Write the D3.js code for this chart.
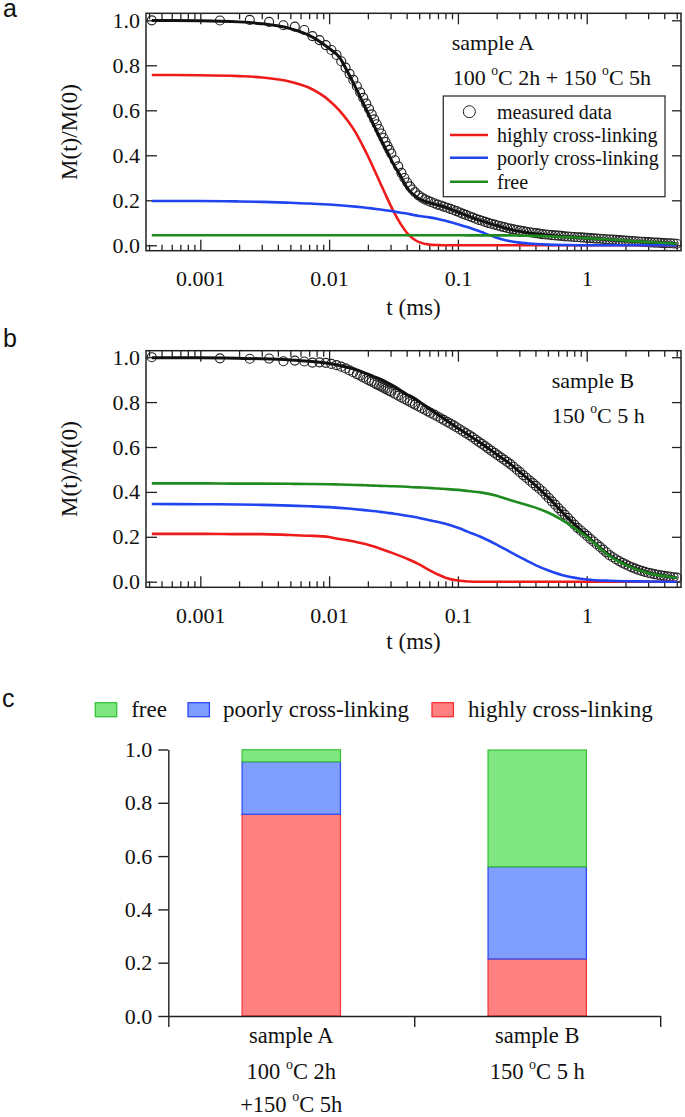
<!DOCTYPE html>
<html><head><meta charset="utf-8">
<script src="https://cdn.jsdelivr.net/npm/d3@7"></script>
<style>body{margin:0;background:#fff}svg{display:block}</style>
</head><body>
<svg id="c" width="685" height="1117"></svg>
<script>
// ---------- data ----------
const tMeasured = [0.00042,0.00142,0.00242,0.00342,0.00442,0.00542,0.00642,0.00742,0.00842,0.00942,
 0.01042,0.01142,0.01242,0.01342,0.01442,0.01542,0.01642,0.01742,0.01842,0.01942,
 0.02042,0.02142,0.02242,0.02342,0.02442,0.02542,0.02642,0.02742,0.02842,0.02942,
 0.03042,0.03242,0.03442,0.03642,0.03842,0.04042,0.04242,0.04442,0.04642,0.04942,
 0.05242,0.05542,0.05842,0.06142,0.06542,0.06942,0.07342,0.07742,0.08242,0.08742,
 0.09242,0.09742,0.1034,0.1094,0.1154,0.1224,0.1294,0.1374,0.1454,0.1534,
 0.1624,0.1714,0.1814,0.1924,0.2034,0.2154,0.2284,0.2414,0.2554,0.2704,
 0.2864,0.3034,0.3214,0.3404,0.3604,0.3814,0.4034,0.4274,0.4524,0.4794,
 0.5074,0.5374,0.5694,0.6024,0.6384,0.6754,0.7154,0.7574,0.8024,0.8494,
 0.8994,0.9524,1.0084,1.0674,1.1304,1.1974,1.2684,1.3424,1.4214,1.5054,
 1.5934,1.6874,1.7864,1.8914,2.0034,2.1214,2.2464,2.3784,2.5184,2.6674,
 2.8244,2.9904,3.1664,3.3534,3.5504,3.7594,3.9814,4.2154,4.4634,4.7264,
 5.0044];
const measuredA = [1.000,0.999,1.002,0.993,0.978,0.972,0.957,0.930,0.912,0.890,
 0.868,0.846,0.818,0.790,0.762,0.735,0.707,0.680,0.655,0.630,
 0.606,0.582,0.560,0.538,0.517,0.497,0.477,0.459,0.441,0.424,
 0.408,0.378,0.351,0.322,0.299,0.279,0.262,0.248,0.236,0.222,
 0.212,0.204,0.198,0.193,0.187,0.181,0.177,0.172,0.167,0.162,
 0.157,0.152,0.146,0.140,0.135,0.129,0.124,0.118,0.113,0.109,
 0.104,0.100,0.096,0.092,0.088,0.084,0.081,0.077,0.074,0.071,
 0.068,0.065,0.063,0.060,0.058,0.056,0.054,0.052,0.050,0.048,
 0.047,0.045,0.044,0.043,0.042,0.040,0.039,0.038,0.037,0.036,
 0.035,0.034,0.033,0.032,0.031,0.030,0.029,0.028,0.027,0.026,
 0.025,0.024,0.023,0.022,0.021,0.020,0.019,0.018,0.017,0.016,
 0.015,0.014,0.013,0.012,0.012,0.011,0.010,0.009,0.009,0.008,
 0.007];
const measuredB = [1.000,0.995,0.993,0.994,0.982,0.985,0.981,0.976,0.977,0.975,
 0.970,0.965,0.958,0.950,0.941,0.933,0.925,0.918,0.910,0.903,
 0.897,0.891,0.885,0.879,0.874,0.869,0.864,0.859,0.854,0.850,
 0.845,0.837,0.829,0.821,0.814,0.807,0.801,0.795,0.789,0.781,
 0.773,0.766,0.759,0.752,0.744,0.736,0.728,0.721,0.712,0.704,
 0.696,0.688,0.679,0.670,0.662,0.653,0.644,0.633,0.623,0.614,
 0.604,0.594,0.584,0.574,0.564,0.554,0.544,0.534,0.524,0.512,
 0.500,0.488,0.475,0.463,0.451,0.439,0.427,0.415,0.403,0.388,
 0.373,0.358,0.343,0.328,0.313,0.299,0.284,0.269,0.254,0.240,
 0.228,0.216,0.204,0.191,0.179,0.167,0.155,0.143,0.131,0.118,
 0.109,0.100,0.092,0.084,0.077,0.070,0.064,0.058,0.053,0.048,
 0.044,0.040,0.037,0.034,0.031,0.028,0.026,0.024,0.022,0.020,
 0.018];

const tFit = [0.00042,0.001,0.002,0.003,0.005,0.007,0.01,0.012,0.014,0.016,
 0.018,0.02,0.022,0.025,0.028,0.032,0.036,0.04,0.045,0.05,
 0.06,0.07,0.08,0.1,0.12,0.15,0.2,0.25,0.3,0.4,
 0.5,0.7,1,1.5,2,3,4,5];
const fitA = [0.999,0.998,0.993,0.985,0.963,0.933,0.875,0.836,0.768,0.703,
 0.643,0.589,0.540,0.475,0.420,0.355,0.307,0.258,0.226,0.207,
 0.189,0.179,0.169,0.148,0.130,0.110,0.088,0.072,0.062,0.051,
 0.045,0.038,0.032,0.025,0.020,0.014,0.010,0.007];
const highlyA = [0.757,0.756,0.752,0.746,0.727,0.700,0.644,0.600,0.552,0.503,
 0.449,0.397,0.346,0.276,0.214,0.145,0.094,0.057,0.029,0.014,
 0.003,0.001,0,0,0,0,0,0,0,0,
 0,0,0,0,0,0,0,0];
const poorlyA = [0.197,0.197,0.195,0.193,0.189,0.186,0.181,0.178,0.175,0.172,
 0.169,0.166,0.163,0.159,0.155,0.150,0.145,0.141,0.135,0.130,
 0.124,0.117,0.109,0.094,0.080,0.060,0.034,0.019,0.012,0.006,
 0.003,0.001,0,0,0,0,0,0];
const freeA = [0.045,0.045,0.045,0.045,0.045,0.045,0.045,0.045,0.045,0.045,
 0.045,0.045,0.045,0.045,0.045,0.045,0.045,0.045,0.045,0.045,
 0.045,0.045,0.045,0.045,0.044,0.044,0.044,0.044,0.043,0.042,
 0.040,0.037,0.032,0.026,0.021,0.014,0.010,0.007];
const fitB = [0.997,0.997,0.995,0.993,0.988,0.982,0.972,0.963,0.954,0.945,
 0.935,0.925,0.915,0.902,0.888,0.870,0.852,0.835,0.820,0.803,
 0.770,0.744,0.721,0.684,0.655,0.618,0.567,0.528,0.490,0.429,
 0.377,0.289,0.205,0.119,0.077,0.040,0.026,0.018];
const highlyB = [0.213,0.213,0.212,0.212,0.208,0.205,0.199,0.190,0.184,0.178,
 0.171,0.165,0.158,0.147,0.137,0.125,0.114,0.103,0.090,0.077,
 0.052,0.032,0.018,0.005,0.001,0,0,0,0,0,
 0,0,0,0,0,0,0,0];
const poorlyB = [0.346,0.345,0.344,0.342,0.339,0.336,0.332,0.329,0.326,0.323,
 0.320,0.317,0.315,0.311,0.307,0.303,0.298,0.294,0.289,0.284,
 0.274,0.266,0.258,0.240,0.222,0.200,0.165,0.135,0.111,0.074,
 0.051,0.024,0.010,0.004,0.002,0.001,0,0];
const freeB = [0.438,0.438,0.437,0.437,0.436,0.435,0.434,0.433,0.432,0.431,
 0.430,0.429,0.428,0.427,0.426,0.425,0.424,0.423,0.421,0.420,
 0.418,0.415,0.413,0.409,0.404,0.398,0.383,0.365,0.352,0.330,
 0.308,0.262,0.200,0.115,0.075,0.039,0.025,0.017];

const xMajorTicks = [0.001, 0.01, 0.1, 1];
const xTickLabels = ["0.001", "0.01", "0.1", "1"];
const yTicks = [0, 0.2, 0.4, 0.6, 0.8, 1.0];
const legendLabels = ["measured data", "highly cross-linking", "poorly cross-linking", "free"];

const barCategories = ["sample A", "sample B"];
const barSubLabels = [
  [[["100 ",0],["o",1],["C 2h",0]], [["+150 ",0],["o",1],["C 5h",0]]],
  [[["150 ",0],["o",1],["C 5 h",0]]]
];
const barHighly = [0.757, 0.214];
const barPoorly = [0.197, 0.346];
const barFree = [0.045, 0.438];
const barLegend = ["free", "poorly cross-linking", "highly cross-linking"];

// ---------- styles ----------
const SERIF = "'Liberation Serif','Times New Roman',Times,serif";
const SANS = "'Liberation Sans',Arial,Helvetica,sans-serif";
const C = {fit:"#111111", highly:"#ee1b1b", poorly:"#1f44f0", free:"#1f8a1f"};
const BAR = {
  highly:{fill:"#ff8080", stroke:"#f23333"},
  poorly:{fill:"#809eff", stroke:"#2a48f5"},
  free:{fill:"#80e680", stroke:"#36c236"}
};

const svg = d3.select("#c");

function supText(parent, x, y, parts, size, anchor) {
  const t = parent.append("text").attr("x", x).attr("y", y)
    .attr("font-family", SERIF).attr("font-size", size).attr("fill", "#111")
    .attr("text-anchor", anchor || "start");
  let up = false;
  parts.forEach(([s, sup]) => {
    const ts = t.append("tspan").text(s);
    if (sup && !up) { ts.attr("dy", -0.45*size).attr("font-size", size*0.62); up = true; }
    else if (sup) { ts.attr("font-size", size*0.62); }
    else if (up) { ts.attr("dy", 0.45*size); up = false; }
  });
  return t;
}

function styleAxis(sel) {
  sel.attr("font-family", SERIF).attr("font-size", 22);
  sel.selectAll(".domain").remove();
  sel.selectAll(".tick line").attr("stroke", "#222").attr("stroke-width", 1.3);
  sel.selectAll(".tick text").attr("fill", "#111");
}

function decayPanel(cfg) {
  const g = svg.append("g");
  const left = 146, right = 681;
  const [top, bottom] = cfg.frame;
  const x = d3.scaleLog().domain([3.787e-4, 5.397]).range([left, right]);
  const y = d3.scaleLinear().domain([0, 1]).range(cfg.yRange);
  const minors = x.ticks().filter(v => !xMajorTicks.some(m => Math.abs(m - v) / m < 1e-6));

  g.append("g").attr("transform", `translate(0,${bottom})`)
    .call(d3.axisBottom(x).tickValues(xMajorTicks).tickFormat((d, i) => xTickLabels[i])
      .tickSizeInner(-11).tickSizeOuter(0).tickPadding(20)).call(styleAxis);
  g.append("g").attr("transform", `translate(0,${bottom})`)
    .call(d3.axisBottom(x).tickValues(minors).tickFormat("").tickSizeInner(-6).tickSizeOuter(0)).call(styleAxis);
  g.append("g").attr("transform", `translate(0,${top})`)
    .call(d3.axisTop(x).tickValues(xMajorTicks).tickFormat("").tickSizeInner(-11).tickSizeOuter(0)).call(styleAxis);
  g.append("g").attr("transform", `translate(0,${top})`)
    .call(d3.axisTop(x).tickValues(minors).tickFormat("").tickSizeInner(-6).tickSizeOuter(0)).call(styleAxis);
  g.append("g").attr("transform", `translate(${left},0)`)
    .call(d3.axisLeft(y).tickValues(yTicks).tickFormat(d3.format(".1f"))
      .tickSizeInner(-11).tickSizeOuter(0).tickPadding(6)).call(styleAxis);
  g.append("g").attr("transform", `translate(${right},0)`)
    .call(d3.axisRight(y).tickValues(yTicks).tickFormat("").tickSizeInner(-9).tickSizeOuter(0)).call(styleAxis);

  g.append("rect").attr("x", left).attr("y", top).attr("width", right - left).attr("height", bottom - top)
    .attr("fill", "none").attr("stroke", "#222").attr("stroke-width", 1.5);

  g.append("g").selectAll("circle").data(d3.zip(tMeasured, cfg.measured)).join("circle")
    .attr("cx", d => x(d[0])).attr("cy", d => y(d[1])).attr("r", 4.5)
    .attr("fill", "none").attr("stroke", "#222").attr("stroke-width", 1.15);

  const line = d3.line().x(d => x(d[0])).y(d => y(d[1])).curve(d3.curveMonotoneX);
  [[cfg.fit, C.fit, 3], [cfg.highly, C.highly, 2.6], [cfg.poorly, C.poorly, 2.6], [cfg.free, C.free, 2.6]]
    .forEach(([vals, col, w]) => {
      g.append("path").attr("d", line(d3.zip(tFit, vals))).attr("fill", "none")
        .attr("stroke", col).attr("stroke-width", w).attr("stroke-linejoin", "round");
    });

  g.append("text").attr("transform", `translate(77,${(top + bottom) / 2}) rotate(-90)`)
    .attr("text-anchor", "middle").attr("font-family", SERIF).attr("font-size", 23).attr("fill", "#111")
    .text("M(t)/M(0)");
  g.append("text").attr("x", (left + right) / 2).attr("y", cfg.xTitleY)
    .attr("text-anchor", "middle").attr("font-family", SERIF).attr("font-size", 23).attr("fill", "#111")
    .text("t (ms)");

  cfg.notes.forEach(n => supText(g, n.x, n.y, n.parts, 22));

  svg.append("text").attr("x", 3).attr("y", cfg.letterY).attr("font-family", SANS).attr("font-size", 25)
    .attr("fill", "#111").text(cfg.letter);

  if (cfg.legend) {
    const lg = g.append("g");
    lg.append("rect").attr("x", 443.3).attr("y", 96).attr("width", 221.7).attr("height", 100.7)
      .attr("fill", "#fff").attr("stroke", "#333").attr("stroke-width", 1.3);
    const rowY = [111.7, 135, 157.7, 181.7];
    lg.append("circle").attr("cx", 469.3).attr("cy", rowY[0]).attr("r", 6)
      .attr("fill", "none").attr("stroke", "#222").attr("stroke-width", 1);
    [C.highly, C.poorly, C.free].forEach((col, i) => {
      lg.append("line").attr("x1", 450).attr("x2", 488).attr("y1", rowY[i + 1]).attr("y2", rowY[i + 1])
        .attr("stroke", col).attr("stroke-width", 2.6);
    });
    legendLabels.forEach((s, i) => {
      lg.append("text").attr("x", 497).attr("y", rowY[i] + 6.8).attr("font-family", SERIF)
        .attr("font-size", 20).attr("fill", "#111").text(s);
    });
  }
}

decayPanel({
  letter: "a", letterY: 17, frame: [13.3, 250.7], yRange: [245.3, 20.3], xTitleY: 315,
  measured: measuredA, fit: fitA, highly: highlyA, poorly: poorlyA, free: freeA, legend: true,
  notes: [
    {x: 451.7, y: 50, parts: [["sample A", 0]]},
    {x: 452.7, y: 85, parts: [["100 ",0],["o",1],["C 2h + 150 ",0],["o",1],["C 5h",0]]}
  ]
});
decayPanel({
  letter: "b", letterY: 347, frame: [350.7, 587.3], yRange: [581.7, 357.2], xTitleY: 649,
  measured: measuredB, fit: fitB, highly: highlyB, poorly: poorlyB, free: freeB, legend: false,
  notes: [
    {x: 551.7, y: 387.7, parts: [["sample B", 0]]},
    {x: 551.7, y: 423.3, parts: [["150 ",0],["o",1],["C 5 h",0]]}
  ]
});

// ---------- panel c: stacked bars ----------
(function () {
  const g = svg.append("g");
  const x0 = 168.3, x1 = 660.2, yBase = 1016;
  const xb = d3.scaleBand().domain(barCategories).range([x0, x1]).padding(0);
  const y = d3.scaleLinear().domain([0, 1]).range([yBase, 749.5]);
  const rows = barCategories.map((c, i) => ({cat: c, highly: barHighly[i], poorly: barPoorly[i], free: barFree[i]}));
  const stack = d3.stack().keys(["highly", "poorly", "free"])(rows);
  const bw = xb.bandwidth() * 0.4;

  stack.forEach(layer => {
    g.append("g").selectAll("rect").data(layer).join("rect")
      .attr("x", d => xb(d.data.cat) + (xb.bandwidth() - bw) / 2)
      .attr("width", bw)
      .attr("y", d => y(d[1]))
      .attr("height", d => y(d[0]) - y(d[1]))
      .attr("fill", BAR[layer.key].fill)
      .attr("stroke", BAR[layer.key].stroke).attr("stroke-width", 1.2);
  });

  g.append("g").attr("transform", `translate(${x0},0)`)
    .call(d3.axisLeft(y).tickValues(yTicks).tickFormat(d3.format(".1f")).tickSizeInner(10).tickSizeOuter(0).tickPadding(6))
    .call(sel => {
      sel.attr("font-family", SERIF).attr("font-size", 22);
      sel.select(".domain").attr("stroke", "#222").attr("stroke-width", 1.4);
      sel.selectAll(".tick line").attr("stroke", "#222").attr("stroke-width", 1.4);
      sel.selectAll(".tick text").attr("fill", "#111");
    });
  const xAxisScale = d3.scaleLinear().domain([0, barCategories.length]).range([x0, x1]);
  g.append("g").attr("transform", `translate(0,${yBase})`)
    .call(d3.axisBottom(xAxisScale).tickValues(d3.range(barCategories.length + 1)).tickFormat("").tickSizeInner(11).tickSizeOuter(0))
    .call(sel => {
      sel.select(".domain").attr("stroke", "#222").attr("stroke-width", 1.4);
      sel.selectAll(".tick line").attr("stroke", "#222").attr("stroke-width", 1.4);
    });

  barCategories.forEach((c, i) => {
    const cx = xb(c) + xb.bandwidth() / 2;
    supText(g, cx, 1043.3, [[c, 0]], 22.5, "middle");
    barSubLabels[i].forEach((parts, j) => supText(g, cx, 1078.8 + 32.8 * j, parts, 22.5, "middle"));
  });

  const items = [
    {key: "free", sx: 95.3, tx: 131.2},
    {key: "poorly", sx: 188, tx: 223},
    {key: "highly", sx: 432, tx: 468}
  ];
  items.forEach((it, i) => {
    g.append("rect").attr("x", it.sx).attr("y", 702.7).attr("width", 21.4).attr("height", 14)
      .attr("fill", BAR[it.key].fill).attr("stroke", BAR[it.key].stroke).attr("stroke-width", 1.3);
    g.append("text").attr("x", it.tx).attr("y", 717).attr("font-family", SERIF).attr("font-size", 23)
      .attr("fill", "#111").text(barLegend[i]);
  });

  svg.append("text").attr("x", 2).attr("y", 707).attr("font-family", SANS).attr("font-size", 25)
    .attr("fill", "#111").text("c");
})();
</script>
</body></html>
